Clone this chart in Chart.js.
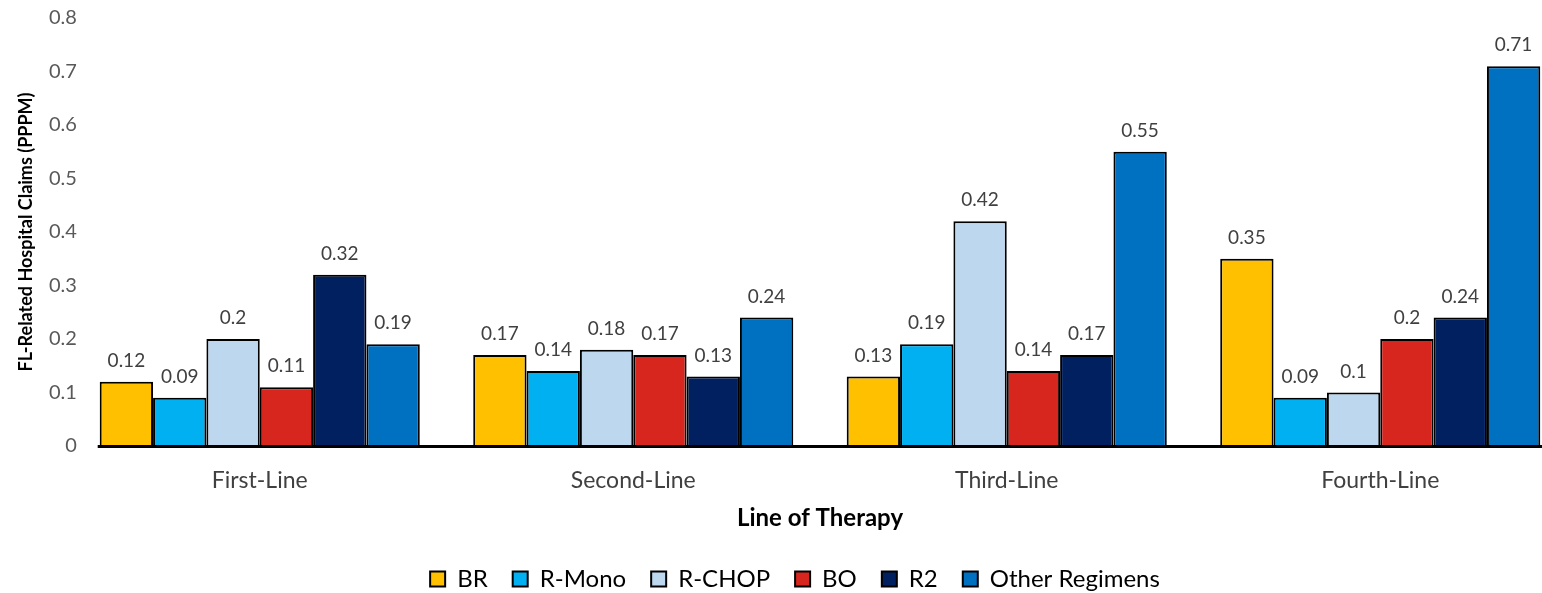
<!DOCTYPE html>
<html>
<head>
<meta charset="utf-8">
<script src="https://cdn.jsdelivr.net/npm/chart.js@4.4.0/dist/chart.umd.min.js"></script>
<style>
  html, body { margin: 0; padding: 0; background: #fff; overflow: hidden; width: 1542px; height: 593px; }
  #wrap { position: absolute; left: -25px; top: 0; width: 1592px; height: 593px; }
</style>
</head>
<body>
<div id="wrap"><canvas id="c" width="1592" height="593"></canvas></div>
<script>
const categories = ['First-Line', 'Second-Line', 'Third-Line', 'Fourth-Line'];
const seriesNames = ['BR', 'R-Mono', 'R-CHOP', 'BO', 'R2', 'Other Regimens'];
const brValues = [0.12, 0.17, 0.13, 0.35];
const rMonoValues = [0.09, 0.14, 0.19, 0.09];
const rChopValues = [0.2, 0.18, 0.42, 0.1];
const boValues = [0.11, 0.17, 0.14, 0.2];
const r2Values = [0.32, 0.13, 0.17, 0.24];
const otherValues = [0.19, 0.24, 0.55, 0.71];
const yTicks = [0, 0.1, 0.2, 0.3, 0.4, 0.5, 0.6, 0.7, 0.8];

const seriesValues = [brValues, rMonoValues, rChopValues, boValues, r2Values, otherValues];
const seriesColors = ['#FFC000', '#00B0F0', '#BDD7EE', '#D7261E', '#002060', '#0070C0'];

const FONT = 'Lato';

const valueLabels = {
  id: 'valueLabels',
  afterDatasetsDraw(chart) {
    const ctx = chart.ctx;
    ctx.save();
    ctx.font = '19px ' + FONT;
    ctx.fillStyle = '#404040';
    ctx.textAlign = 'center';
    ctx.textBaseline = 'middle';
    chart.data.datasets.forEach((ds, i) => {
      const meta = chart.getDatasetMeta(i);
      meta.data.forEach((bar, j) => {
        ctx.fillText(String(ds.data[j]), bar.x, bar.y - 21);
      });
    });
    ctx.restore();
  }
};

const baseLine = {
  id: 'baseLine',
  afterDatasetsDraw(chart) {
    const ctx = chart.ctx;
    const first = chart.getDatasetMeta(0).data[0];
    const y0 = chart.scales.y.getPixelForValue(0);
    const xStart = first.x - first.width / 2 - 2;
    ctx.save();
    ctx.strokeStyle = '#000';
    ctx.lineWidth = 3;
    ctx.beginPath();
    ctx.moveTo(xStart, y0 + 0.5);
    ctx.lineTo(chart.width, y0 + 0.5);
    ctx.stroke();
    ctx.restore();
  }
};

const legendShift = {
  id: 'legendShift',
  afterLayout(chart) {
    if (chart.legend) {
      chart.legend.left += 24;
      chart.legend.right += 24;
    }
  }
};

new Chart(document.getElementById('c'), {
  type: 'bar',
  data: {
    labels: categories,
    datasets: seriesNames.map((name, i) => ({
      label: name,
      data: seriesValues[i],
      backgroundColor: seriesColors[i],
      borderColor: '#000',
      borderWidth: 2,
      barPercentage: 1,
      categoryPercentage: 0.857
    }))
  },
  options: {
    responsive: false,
    animation: false,
    layout: { padding: { top: 18, right: 0, bottom: -8, left: 0 } },
    plugins: {
      legend: {
        position: 'bottom',
        labels: {
          font: { family: FONT, size: 24 },
          color: '#404040',
          boxWidth: 15,
          boxHeight: 15,
          padding: 25,
          generateLabels(chart) {
            return chart.data.datasets.map((ds, i) => ({
              text: ds.label,
              fillStyle: ds.backgroundColor,
              strokeStyle: '#000',
              lineWidth: 2,
              datasetIndex: i,
              hidden: false
            }));
          }
        }
      },
      tooltip: { enabled: false }
    },
    scales: {
      x: {
        grid: { display: false, drawTicks: false },
        border: { display: false },
        ticks: { font: { family: FONT, size: 23 }, color: '#404040', padding: 21 },
        title: {
          display: true,
          text: 'Line of Therapy',
          font: { family: FONT, size: 24, weight: 'bold', lineHeight: 1.2 },
          color: '#000',
          padding: { top: 4, bottom: 9 }
        },
        afterFit(scale) { scale.height = 96; }
      },
      y: {
        min: 0,
        max: 0.8,
        afterBuildTicks(scale) { scale.ticks = yTicks.map(v => ({ value: v })); },
        grid: { display: false, drawTicks: false },
        border: { display: false },
        ticks: {
          font: { family: FONT, size: 20 },
          color: '#595959',
          mirror: true,
          crossAlign: 'far',
          padding: -24,
          callback: (v) => String(v)
        },
        title: {
          display: true,
          text: 'FL-Related Hospital Claims (PPPM)',
          font: { family: FONT, size: 18, weight: 'bold', lineHeight: 1.2 },
          color: '#000',
          padding: { top: 40, bottom: 0 }
        },
        afterFit(scale) { scale.width = 98; }
      }
    }
  },
  plugins: [valueLabels, baseLine, legendShift]
});
</script>
</body>
</html>
